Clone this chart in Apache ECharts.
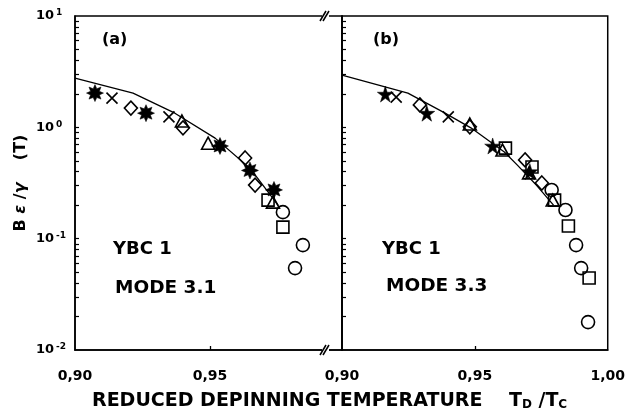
<!DOCTYPE html>
<html><head><meta charset="utf-8">
<script src="https://cdn.jsdelivr.net/npm/echarts@6/dist/echarts.min.js"></script>
<style>html,body{margin:0;padding:0;background:#fff}#c{width:628px;height:414px}</style>
</head><body><div id="c"></div>
<script>
// ---- Panel (a): YBC 1, MODE 3.1 ----
const aStar = [[0.9074,2.03],[0.9263,1.34],[0.9537,0.68],[0.9648,0.41],[0.9737,0.274]];
const aCross = [[0.9137,1.83],[0.9348,1.24]];
const aDiamond = [[0.9207,1.49],[0.9400,0.99],[0.9630,0.53],[0.9667,0.303]];
const aTriangle = [[0.9396,1.14],[0.9493,0.72],[0.9733,0.213]];
const aSquare = [[0.9715,0.222],[0.9770,0.127]];
const aCircle = [[0.9770,0.173],[0.9844,0.0875],[0.9815,0.0544]];
const aLine = [[0.900,2.77],[0.9215,2.03],[0.9370,1.34],[0.9519,0.80],[0.9648,0.43],[0.9752,0.20]];
// ---- Panel (b): YBC 1, MODE 3.3 ----
const bStar = [[0.9163,1.99],[0.9319,1.34],[0.9567,0.68],[0.9707,0.40]];
const bCross = [[0.9204,1.87],[0.9400,1.24]];
const bDiamond = [[0.9293,1.59],[0.9481,1.01],[0.9689,0.51],[0.9752,0.316]];
const bTriangle = [[0.9481,1.07],[0.9604,0.625],[0.9704,0.39],[0.9793,0.222]];
const bSquare = [[0.9615,0.65],[0.9715,0.44],[0.9800,0.222],[0.9852,0.130],[0.9930,0.0443]];
const bCircle = [[0.9789,0.274],[0.9841,0.181],[0.9881,0.0875],[0.9900,0.0544],[0.9926,0.0178]];
const bLine = [[0.900,2.95],[0.9248,2.03],[0.9381,1.37],[0.9485,0.99],[0.9611,0.60],[0.9659,0.46],[0.9733,0.30],[0.9796,0.20]];
// ---- ticks ----
const xLabelTicks = [0.90, 0.95, 1.00];
const xInnerTicks = [0.95];
const yTicks = [0.02,0.03,0.04,0.05,0.06,0.07,0.08,0.09,0.1,0.2,0.3,0.4,0.5,0.6,0.7,0.8,0.9,1,2,3,4,5,6,7,8,9];
const yLabelTicks = [0.01,0.1,1,10];

const FONT = '"DejaVu Sans", sans-serif';
const chart = echarts.init(document.getElementById('c'), null, {renderer:'canvas'});

const STAR5 = 'path://M50,0 L61,35 L98,35 L68,57 L79,91 L50,70 L21,91 L32,57 L2,35 L39,35 Z';
const BURST = 'path://M50,0 L60.7,24.1 L85.4,14.6 L75.9,39.3 L100,50 L75.9,60.7 L85.4,85.4 L60.7,75.9 L50,100 L39.3,75.9 L14.6,85.4 L24.1,60.7 L0,50 L24.1,39.3 L14.6,14.6 L39.3,24.1 Z';
const CROSS = 'path://M0,0 L10,10 M10,0 L0,10';

function sc(data, idx, symbol, size, filled) {
  return {
    type:'scatter', xAxisIndex:idx, yAxisIndex:idx, data:data, symbol:symbol, symbolSize:size,
    silent:true, z:3, clip:false,
    itemStyle: filled ? {color:'#000', borderColor:'#000', borderWidth:0.5, opacity:1}
                      : {color:'rgba(0,0,0,0)', borderColor:'#000', borderWidth:1.6, opacity:1}
  };
}
function ln(data, idx) {
  return {type:'line', xAxisIndex:idx, yAxisIndex:idx, data:data, symbol:'none', silent:true, z:2,
    lineStyle:{color:'#000', width:1.3}};
}
function xAx(idx, max, labels) {
  return {
    type:'value', gridIndex:idx, min:0.90, max:max, position:'bottom',
    axisLine:{show:true, lineStyle:{color:'#000', width:1.5}},
    axisTick:{show:true, inside:true, length:4, customValues:xInnerTicks, lineStyle:{color:'#000', width:1.3}},
    axisLabel:{show:true, customValues:labels, margin:19, color:'#000', fontFamily:FONT, fontWeight:'bold', fontSize:14,
      formatter:v=>v.toFixed(2).replace('.',',')},
    splitLine:{show:false}
  };
}
function yAx(idx, showLabels) {
  return {
    type:'log', min:0.01, max:10, gridIndex:idx,
    axisLine:{show:true, lineStyle:{color:'#000', width:1.5}},
    axisTick:{show:true, inside:true, length:4, customValues:yTicks, lineStyle:{color:'#000', width:1.2}},
    axisLabel:{show:showLabels, customValues:yLabelTicks, margin:39, align:'left', color:'#000',
      formatter:v=>'{b|10}{s|' + Math.round(Math.log10(v)) + '}',
      rich:{b:{fontFamily:FONT, fontWeight:'bold', fontSize:13, color:'#000'},
            s:{fontFamily:FONT, fontWeight:'bold', fontSize:9, color:'#000', verticalAlign:'top', padding:[0,0,6,2]}}},
    splitLine:{show:false}
  };
}

const txt = (t, x, y, size) => ({type:'text', x:x, y:y, style:{text:t, fill:'#000', font:'bold '+size+'px '+FONT, textVerticalAlign:'middle'}});

chart.setOption({
  animation:false,
  backgroundColor:'#fff',
  grid:[
    {left:75, top:16, width:267, height:334, show:true, borderColor:'#000', borderWidth:1.5},
    {left:342, top:16, width:270, height:334, show:true, borderColor:'#000', borderWidth:1.5}
  ],
  xAxis:[xAx(0, 0.998889, [0.90,0.95]), xAx(1, 1.00, xLabelTicks)],
  yAxis:[yAx(0, true), yAx(1, false)],
  series:[
    ln(aLine,0),
    sc(aStar,0,BURST,17,true), sc(aCross,0,CROSS,11,false), sc(aDiamond,0,'diamond',[13,14],false),
    sc(aTriangle,0,'triangle',[13,12],false), sc(aSquare,0,'rect',12,false), sc(aCircle,0,'circle',13,false),
    ln(bLine,1),
    sc(bStar,1,STAR5,16,true), sc(bCross,1,CROSS,11,false), sc(bDiamond,1,'diamond',[13,14],false),
    sc(bTriangle,1,'triangle',[13,12],false), sc(bSquare,1,'rect',12,false), sc(bCircle,1,'circle',13,false)
  ],
  graphic:[
    txt('(a)', 102, 40, 16), txt('(b)', 373, 40, 16),
    txt('YBC 1', 113, 249, 18), txt('MODE 3.1', 115, 288, 18.5),
    txt('YBC 1', 382, 249, 18), txt('MODE 3.3', 386, 286, 18.5),
    {type:'text', x:21, y:183, rotation:Math.PI/2,
      style:{text:'{n|B }{i|ε }{n|/}{i|γ}{n|    (T)}', textAlign:'center', textVerticalAlign:'middle',
        rich:{n:{font:'bold 16px '+FONT, fill:'#000'}, i:{font:'italic bold 16px '+FONT, fill:'#000'}}}},
    {type:'text', x:92, y:401,
      style:{text:'{n|REDUCED DEPINNING TEMPERATURE    T}{s|D}{n| /T}{s|C}', textVerticalAlign:'middle',
        rich:{n:{font:'bold 19px '+FONT, fill:'#000'}, s:{font:'bold 12px '+FONT, fill:'#000', verticalAlign:'bottom', padding:[6,0,0,0]}}}},
    {type:'rect', shape:{x:322, y:12, width:7, height:8}, style:{fill:'#fff'}, z:100},
    {type:'line', shape:{x1:320, y1:21, x2:326, y2:11}, style:{stroke:'#000', lineWidth:1.5}, z:101},
    {type:'line', shape:{x1:323, y1:21, x2:329, y2:11}, style:{stroke:'#000', lineWidth:1.5}, z:101},
    {type:'rect', shape:{x:322, y:346, width:7, height:8}, style:{fill:'#fff'}, z:100},
    {type:'line', shape:{x1:320, y1:355, x2:326, y2:345}, style:{stroke:'#000', lineWidth:1.5}, z:101},
    {type:'line', shape:{x1:323, y1:355, x2:329, y2:345}, style:{stroke:'#000', lineWidth:1.5}, z:101}
  ]
});
</script>
</body></html>
